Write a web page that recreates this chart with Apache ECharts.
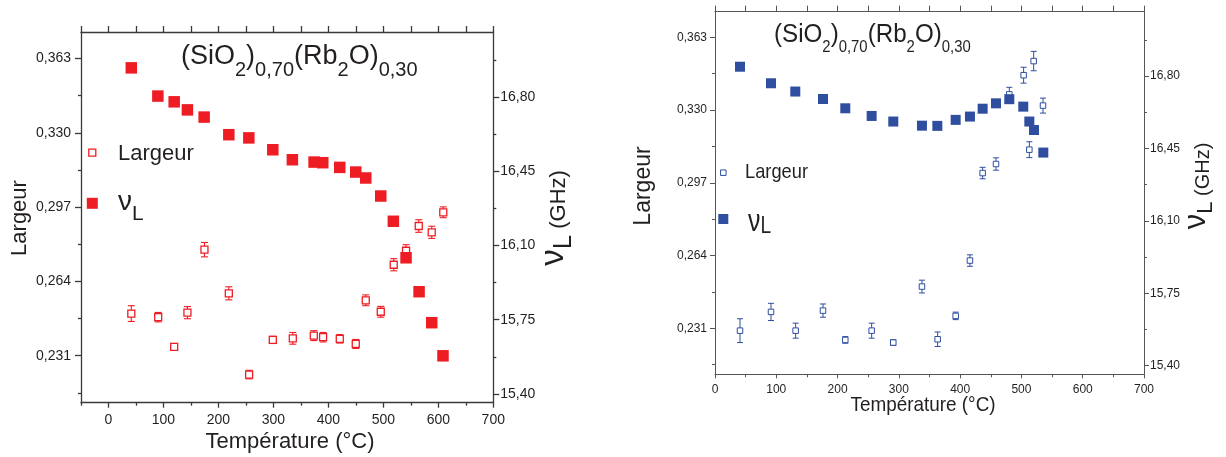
<!DOCTYPE html>
<html><head><meta charset="utf-8">
<script src="https://cdn.jsdelivr.net/npm/echarts@6/dist/echarts.min.js"></script>
<style>html,body{margin:0;padding:0;background:#fff}#c{width:1226px;height:457px}</style>
</head><body><div id="c"></div>
<script>
// ---------- Left panel (red) ----------
const tempNuA = [41.5, 89.8, 119.5, 143.6, 174, 218.9, 255.3, 298.9, 334.5, 374, 389.8, 420.7, 449.8, 468, 495.3, 518.2, 541.3, 565, 588, 608.5];
const nuA = [16.937, 16.804, 16.777, 16.739, 16.705, 16.622, 16.607, 16.551, 16.504, 16.493, 16.490, 16.468, 16.446, 16.418, 16.333, 16.214, 16.042, 15.882, 15.736, 15.580];
const tempLargA = [41.5, 90.4, 119.5, 143.6, 174.6, 218.9, 255.8, 298.9, 335.3, 373.5, 390.4, 420.7, 449.8, 468, 495.3, 518.9, 541.3, 564.4, 588, 609];
const largA = [0.2497, 0.2481, 0.2349, 0.2501, 0.2781, 0.2587, 0.2226, 0.2380, 0.2387, 0.2399, 0.2392, 0.2385, 0.2362, 0.2556, 0.2505, 0.2714, 0.2776, 0.2886, 0.2858, 0.2947];
const errA = [0.0035, 0.0021, 0.0015, 0.0027, 0.0032, 0.0029, 0.0019, 0.0016, 0.0026, 0.0022, 0.0021, 0.0019, 0.0020, 0.0024, 0.0024, 0.0027, 0.0027, 0.0028, 0.0027, 0.0024];

// ---------- Right panel (blue) ----------
const tempNuB = [40.8, 91.4, 131, 176.2, 212.6, 255.6, 290.9, 337.7, 362.8, 392.7, 416, 436.7, 458.5, 480.2, 503, 512.9, 520.5, 535.7];
const nuB = [16.845, 16.765, 16.725, 16.689, 16.644, 16.607, 16.580, 16.560, 16.559, 16.588, 16.604, 16.642, 16.668, 16.688, 16.652, 16.580, 16.539, 16.430];
const tempLargB = [40.8, 91.4, 131.6, 176.2, 212.6, 255.6, 290.9, 337.7, 363.3, 392.7, 416, 436.7, 458.5, 480.2, 503.6, 512.9, 520, 535.2];
const largB = [0.2299, 0.2384, 0.2299, 0.2390, 0.2257, 0.2299, 0.2245, 0.2499, 0.2260, 0.2366, 0.2617, 0.3014, 0.3055, 0.3371, 0.3458, 0.3120, 0.3522, 0.3320];
const errB = [0.0054, 0.0039, 0.0034, 0.0030, 0.0015, 0.0034, 0.0013, 0.0029, 0.0033, 0.0017, 0.0026, 0.0026, 0.0028, 0.0032, 0.0036, 0.0036, 0.0044, 0.0034];

// ---------- Tick values ----------
const xTicks = [0, 100, 200, 300, 400, 500, 600, 700];
const xMinorA = [-50, 50, 150, 250, 350, 450, 550, 650];
const xMinorB = [50, 150, 250, 350, 450, 550, 650];
const xTopA = [-50, 0, 50, 100, 150, 200, 250, 300, 350, 400, 450, 500, 550, 600, 650, 700];
const xTopB = [0, 50, 100, 150, 200, 250, 300, 350, 400, 450, 500, 550, 600, 650, 700];
const largTicks = [0.231, 0.264, 0.297, 0.330, 0.363];
const largMinor = [0.2145, 0.2475, 0.2805, 0.3135, 0.3465];
const nuTicks = [15.40, 15.75, 16.10, 16.45, 16.80];
const nuMinor = [15.575, 15.925, 16.275, 16.625, 16.975];

const FONT = "'Liberation Sans', Arial, Helvetica, sans-serif";
const TXT = '#231F20';
const RED = '#EE1D23';
const BLUE = '#2F4E9F';

const fmt3 = v => v.toFixed(3).replace('.', ',');
const fmt2 = v => v.toFixed(2).replace('.', ',');

const panels = [
  { grid: {left: 81, top: 32, width: 412.3, height: 370.7}, xMin: -50,
    largRange: [0.2101, 0.3748], nuRange: [15.359, 17.106],
    color: RED, axisColor: '#3a3a3a', axisW: 1.3, fs: 14,
    xMargin: 10, yLMargin: 10, yRMargin: 7,
    filled: 11.5, open: 7, openW: 1.3, cap: 3.5, errW: 1.1,
    yMajorLen: 6, yMinorLen: 3, xLen: 5, xMinorLen: 3, topLen: 6,
    xMinor: xMinorA, xTop: xTopA,
    tempNu: tempNuA, nu: nuA, tempLarg: tempLargA, larg: largA, err: errA },
  { grid: {left: 715, top: 11.7, width: 429, height: 362.6}, xMin: 0,
    largRange: [0.2101, 0.3746], nuRange: [15.358, 17.111],
    color: BLUE, axisColor: '#555', axisW: 1, fs: 12,
    xMargin: 9, yLMargin: 8, yRMargin: 6,
    filled: 10, open: 5.5, openW: 1, cap: 3, errW: 1,
    yMajorLen: 5, yMinorLen: 3, xLen: 4, xMinorLen: 3, topLen: 6,
    xMinor: xMinorB, xTop: xTopB,
    tempNu: tempNuB, nu: nuB, tempLarg: tempLargB, larg: largB, err: errB }
];

function errRender(color, cap, w) {
  return function (params, api) {
    const x = api.value(0), y = api.value(1), e = api.value(2);
    const a = api.coord([x, y + e]);
    const b = api.coord([x, y - e]);
    const st = {stroke: color, lineWidth: w};
    return {type: 'group', children: [
      {type: 'line', shape: {x1: a[0], y1: a[1], x2: b[0], y2: b[1]}, style: st},
      {type: 'line', shape: {x1: a[0] - cap, y1: a[1], x2: a[0] + cap, y2: a[1]}, style: st},
      {type: 'line', shape: {x1: b[0] - cap, y1: b[1], x2: b[0] + cap, y2: b[1]}, style: st}
    ]};
  };
}

const option = {animation: false, backgroundColor: '#fff', grid: [], xAxis: [], yAxis: [], series: [], graphic: []};

panels.forEach((p, i) => {
  option.grid.push(Object.assign({containLabel: false}, p.grid));
  const ls = {color: p.axisColor, width: p.axisW};
  const line = {show: true, onZero: false, lineStyle: ls};
  const noLine = {show: false, onZero: false};
  const lab = {fontFamily: FONT, fontSize: p.fs, color: TXT};
  const xb = option.xAxis.length;
  option.xAxis.push({type: 'value', gridIndex: i, position: 'bottom', min: p.xMin, max: 700,
    axisLine: line, axisTick: {show: true, inside: false, length: p.xLen, customValues: xTicks, lineStyle: ls},
    axisLabel: Object.assign({margin: p.xMargin, customValues: xTicks}, lab), splitLine: {show: false}});
  option.xAxis.push({type: 'value', gridIndex: i, position: 'bottom', min: p.xMin, max: 700,
    axisLine: noLine, axisTick: {show: true, length: p.xMinorLen, customValues: p.xMinor, lineStyle: ls},
    axisLabel: {show: false}, splitLine: {show: false}});
  option.xAxis.push({type: 'value', gridIndex: i, position: 'top', min: p.xMin, max: 700,
    axisLine: line, axisTick: {show: true, length: p.topLen, customValues: p.xTop, lineStyle: ls},
    axisLabel: {show: false}, splitLine: {show: false}});
  const yb = option.yAxis.length;
  option.yAxis.push({type: 'value', gridIndex: i, position: 'left', min: p.largRange[0], max: p.largRange[1],
    axisLine: line, axisTick: {show: true, length: p.yMajorLen, customValues: largTicks, lineStyle: ls},
    axisLabel: Object.assign({margin: p.yLMargin, customValues: largTicks, formatter: fmt3}, lab), splitLine: {show: false}});
  option.yAxis.push({type: 'value', gridIndex: i, position: 'left', min: p.largRange[0], max: p.largRange[1],
    axisLine: noLine, axisTick: {show: true, length: p.yMinorLen, customValues: largMinor, lineStyle: ls},
    axisLabel: {show: false}, splitLine: {show: false}});
  option.yAxis.push({type: 'value', gridIndex: i, position: 'right', min: p.nuRange[0], max: p.nuRange[1],
    axisLine: line, axisTick: {show: true, length: p.yMajorLen, customValues: nuTicks, lineStyle: ls},
    axisLabel: Object.assign({margin: p.yRMargin, customValues: nuTicks, formatter: fmt2}, lab), splitLine: {show: false}});
  option.yAxis.push({type: 'value', gridIndex: i, position: 'right', min: p.nuRange[0], max: p.nuRange[1],
    axisLine: noLine, axisTick: {show: true, length: p.yMinorLen, customValues: nuMinor, lineStyle: ls},
    axisLabel: {show: false}, splitLine: {show: false}});

  option.series.push({type: 'custom', name: 'err' + i, xAxisIndex: xb, yAxisIndex: yb, z: 2, silent: true,
    renderItem: errRender(p.color, p.cap, p.errW), encode: {x: 0, y: 1},
    data: p.tempLarg.map((t, k) => [t, p.larg[k], p.err[k]])});
  option.series.push({type: 'scatter', name: 'Largeur', xAxisIndex: xb, yAxisIndex: yb, z: 3, symbol: 'rect',
    symbolSize: p.open, itemStyle: {color: '#fff', borderColor: p.color, borderWidth: p.openW, opacity: 1},
    data: p.tempLarg.map((t, k) => [t, p.larg[k]])});
  option.series.push({type: 'scatter', name: 'νL', xAxisIndex: xb, yAxisIndex: yb + 2, z: 4, symbol: 'rect',
    symbolSize: p.filled, itemStyle: {color: p.color, opacity: 1},
    data: p.tempNu.map((t, k) => [t, p.nu[k]])});
});

// ---------- Text / legend graphics ----------
function T(x, y, text, fs) {
  return {type: 'text', x: x, y: y, z: 10,
    style: {text: text, fontFamily: FONT, fontSize: fs, fill: TXT, align: 'center', verticalAlign: 'middle'}};
}
function titleText(x, y, main, sub, lhM, pSub, scaleX) {
  return {type: 'text', x: x, y: y, z: 10, scaleX: scaleX || 1,
    style: {text: '{m|(SiO}{s|2}{m|)}{s|0,70}{m|(Rb}{s|2}{m|O)}{s|0,30}', align: 'left', verticalAlign: 'top',
      fontFamily: FONT, fill: TXT,
      rich: {m: {fontFamily: FONT, fontSize: main, lineHeight: lhM, verticalAlign: 'top', fill: TXT},
             s: {fontFamily: FONT, fontSize: sub, lineHeight: sub, padding: [pSub, 0, 0, 0], verticalAlign: 'top', fill: TXT}}}};
}
function nuRich(nuFs, nuLh, lFs, pL, extraG) {
  const rich = {n: {fontFamily: FONT, fontSize: nuFs, lineHeight: nuLh, verticalAlign: 'top', fill: TXT},
                l: {fontFamily: FONT, fontSize: lFs, lineHeight: lFs, padding: [pL, 0, 0, 0], verticalAlign: 'top', fill: TXT}};
  let text = '{n|ν}{l|L}';
  if (extraG) {
    rich.g = {fontFamily: FONT, fontSize: extraG.fs, lineHeight: extraG.fs, padding: [extraG.p, 0, 0, 0], verticalAlign: 'top', fill: TXT};
    text += '{g| (GHz)}';
  }
  return {text: text, rich: rich};
}
function rect(cx, cy, s, fill, stroke, lw) {
  return {type: 'rect', z: 10, shape: {x: cx - s / 2, y: cy - s / 2, width: s, height: s},
    style: {fill: fill, stroke: stroke || null, lineWidth: lw || 0}};
}

const g = option.graphic;
// Left panel
g.push(titleText(181, 43.5, 27, 20, 30, 16.5));
g.push(rect(92.3, 152.7, 7, '#fff', RED, 1.3));
g.push({type: 'text', x: 118, y: 154, z: 10,
  style: {text: 'Largeur', fontFamily: FONT, fontSize: 22, fill: TXT, align: 'left', verticalAlign: 'middle'}});
g.push(rect(92.3, 203.3, 11, RED));
(function () {
  const r = nuRich(28, 30, 21, 15.6);
  g.push({type: 'text', x: 118, y: 188.5, z: 10, style: {text: r.text, rich: r.rich, align: 'left', verticalAlign: 'top', fontFamily: FONT, fill: TXT}});
})();
g.push({type: 'text', x: 19.5, y: 218, rotation: Math.PI / 2, z: 10,
  style: {text: 'Largeur', fontFamily: FONT, fontSize: 22, fill: TXT, align: 'center', verticalAlign: 'middle'}});
g.push(T(290, 442.3, 'Température (°C)', 22));
(function () {
  const r = nuRich(33, 34, 26, 13.1, {fs: 22, p: 10.5});
  g.push({type: 'text', x: 537.8, y: 218, rotation: Math.PI / 2, z: 10,
    style: {text: r.text, rich: r.rich, align: 'center', verticalAlign: 'top', fontFamily: FONT, fill: TXT}});
})();

// Right panel
g.push(titleText(774, 21.9, 26, 16, 28, 17.3, 0.93));
g.push(rect(723.3, 172.7, 5.5, '#fff', BLUE, 1));
g.push({type: 'text', x: 745, y: 172.6, scaleX: 0.87, z: 10,
  style: {text: 'Largeur', fontFamily: FONT, fontSize: 21, fill: TXT, align: 'left', verticalAlign: 'middle'}});
g.push(rect(723.3, 219, 10, BLUE));
(function () {
  const r = nuRich(31, 32, 24, 8.1);
  g.push({type: 'text', x: 748, y: 206.5, scaleX: 0.8, z: 10, style: {text: r.text, rich: r.rich, align: 'left', verticalAlign: 'top', fontFamily: FONT, fill: TXT}});
})();
g.push({type: 'text', x: 643.6, y: 186, rotation: Math.PI / 2, z: 10,
  style: {text: 'Largeur', fontFamily: FONT, fontSize: 23, fill: TXT, align: 'center', verticalAlign: 'middle'}});
g.push({type: 'text', x: 923, y: 405.6, scaleX: 0.9, z: 10,
  style: {text: 'Température (°C)', fontFamily: FONT, fontSize: 21, fill: TXT, align: 'center', verticalAlign: 'middle'}});
(function () {
  const r = nuRich(31, 32, 22, 14.8, {fs: 20, p: 12.5});
  g.push({type: 'text', x: 1180.5, y: 186, rotation: Math.PI / 2, z: 10,
    style: {text: r.text, rich: r.rich, align: 'center', verticalAlign: 'top', fontFamily: FONT, fill: TXT}});
})();

const chart = echarts.init(document.getElementById('c'), null, {renderer: 'canvas'});
chart.setOption(option);
</script>
</body></html>
